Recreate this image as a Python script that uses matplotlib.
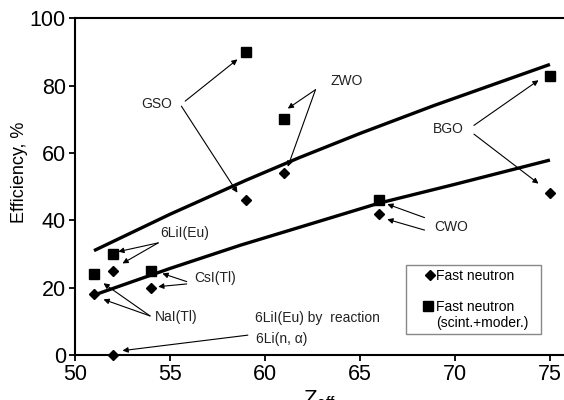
import matplotlib
matplotlib.use("Agg")
import numpy as np
import matplotlib.pyplot as plt
from matplotlib.lines import Line2D
from matplotlib.legend_handler import HandlerLine2D

# scintillators: Zeff and efficiency (%)
zeff = [51, 52, 54, 59, 61, 66, 75]
eff_fast = [18, 25, 20, 46, 54, 42, 48]
eff_moder = [24, 30, 25, 90, 70, 46, 83]
# 6LiI(Eu) by 6Li(n, alpha) reaction
zeff_li = [52]
eff_li = [0]

# trend curves
trend_up_x = [51, 55, 59, 61.8, 65, 68.9, 75]
trend_up_y = [31, 41.8, 51.9, 58.6, 65.8, 74.1, 86.3]
trend_lo_x = [51, 55, 58.7, 61.8, 66, 70, 75]
trend_lo_y = [17.8, 25.7, 32.6, 37.9, 45.1, 50.7, 57.9]

xticks = [50, 55, 60, 65, 70, 75]
yticks = [0, 20, 40, 60, 80, 100]

# label text, label position, arrow (start, end) pairs
labels = [
    ("GSO", (54.3, 74.4), [((55.8, 75.4), (58.55, 87.8)), ((55.6, 73.9), (58.55, 48.2))]),
    ("ZWO", (64.3, 81.3), [((62.66, 78.8), (61.2, 73.2)), ((62.66, 78.8), (61.2, 55.9))]),
    ("BGO", (69.65, 67.1), [((71.0, 68.2), (74.4, 81.6)), ((71.0, 65.6), (74.4, 50.9))]),
    ("CWO", (69.8, 38.1), [((68.4, 40.8), (66.44, 44.8)), ((68.4, 37.1), (66.44, 40.3))]),
    ("6LiI(Eu)", (55.8, 36.3), [((54.38, 33.3), (52.28, 30.7)), ((54.38, 33.3), (52.5, 27.2))]),
    ("CsI(Tl)", (57.4, 22.8), [((55.88, 21.8), (54.6, 24.2)), ((55.88, 21.1), (54.38, 20.3))]),
    ("NaI(Tl)", (55.35, 11.4), [((53.95, 11.6), (51.5, 21.3)), ((53.95, 11.6), (51.5, 16.5))]),
]


def shifted(dx, dy):
    # move the legend marker inside its handle box
    def update(legend_handle, orig_handle):
        legend_handle.update_from(orig_handle)
        legend_handle.set_markevery([1])
        legend_handle.set_xdata(np.asarray(legend_handle.get_xdata()) + dx)
        legend_handle.set_ydata(np.asarray(legend_handle.get_ydata()) + dy)
    return update


plt.rcParams['font.family'] = ['Liberation Sans', 'DejaVu Sans']

fig = plt.figure(figsize=(5.64, 4.0), dpi=100)
ax = fig.add_axes([75 / 564, 45 / 400, 489 / 564, 336.7 / 400])

ax.plot(trend_up_x, trend_up_y, color='black', lw=2.4, solid_capstyle='butt', solid_joinstyle='round')
ax.plot(trend_lo_x, trend_lo_y, color='black', lw=2.4, solid_capstyle='butt', solid_joinstyle='round')
ax.plot(zeff, eff_fast, 'D', color='black', ms=4.7, linestyle='none')
ax.plot(zeff, eff_moder, 's', color='black', ms=6.6, linestyle='none')
ax.plot(zeff_li, eff_li, 'D', color='black', ms=4.7, linestyle='none', clip_on=False)

arrow = dict(arrowstyle='-|>', color='black', lw=0.8, mutation_scale=8,
             shrinkA=0, shrinkB=0)
for name, pos, arrows in labels:
    ax.text(pos[0], pos[1], name, ha='center', va='center', fontsize=10, color='#222222')
    for start, end in arrows:
        ax.annotate('', xy=end, xytext=start, arrowprops=arrow)

ax.text(59.5, 10.9, "6LiI(Eu) by  reaction", ha='left', va='center', fontsize=10, color='#222222')
ax.text(59.55, 4.7, "6Li(n, \u03b1)", ha='left', va='center', fontsize=10, color='#222222')
ax.annotate('', xy=(52.5, 1.3), xytext=(59.1, 5.9), arrowprops=arrow)

ax.set_xlim(50, 75.74)
ax.set_ylim(0, 100)
ax.set_xticks(xticks)
ax.set_yticks(yticks)
ax.tick_params(direction='out', length=4.5, width=1.3, labelsize=15.5, pad=2)
for side in ['left', 'bottom', 'top']:
    ax.spines[side].set_linewidth(1.5)
ax.spines['right'].set_visible(False)

ax.set_ylabel("Efficiency, %", fontsize=13)
ax.yaxis.set_label_coords(-0.096, 0.543)
ax.set_xlabel(r"Z$_{\mathregular{eff}}$", fontsize=16)
ax.xaxis.set_label_coords(0.5, -0.1)

h_fast = Line2D([], [], marker='D', color='black', ms=4.7, linestyle='none')
h_moder = Line2D([], [], marker='s', color='black', ms=6.6, linestyle='none')
leg = ax.legend([h_fast, h_moder], ["Fast neutron", "Fast neutron\n(scint.+moder.)"],
                loc='upper left', bbox_to_anchor=(0.676, 0.0713, 0.277, 0.196), mode='expand',
                fontsize=10, handlelength=1.9, handletextpad=0.0, labelspacing=1.2,
                borderpad=0.3, borderaxespad=0, fancybox=False, framealpha=1,
                handler_map={h_fast: HandlerLine2D(update_func=shifted(5, 0)),
                             h_moder: HandlerLine2D(update_func=shifted(4, 7.2))})
leg.get_frame().set_edgecolor('#888888')
leg.get_frame().set_linewidth(1.0)

fig.savefig("out.png", dpi=100)
